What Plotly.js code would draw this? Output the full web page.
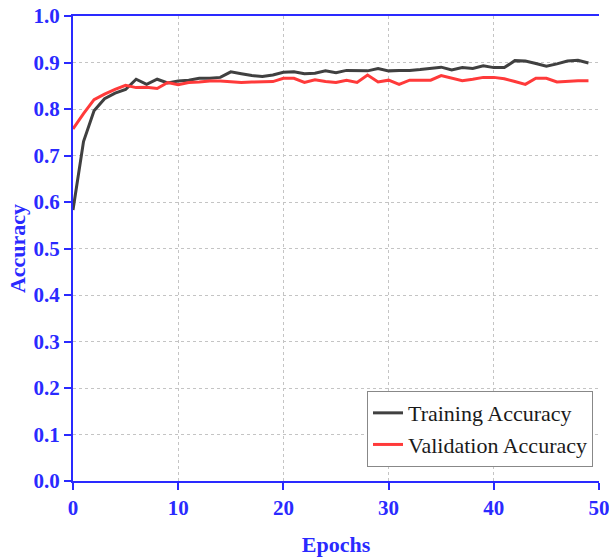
<!DOCTYPE html>
<html>
<head>
<meta charset="utf-8">
<script src="https://cdn.plot.ly/plotly-3.0.1.min.js"></script>
<style>html,body{margin:0;padding:0;background:#fff;}#chart{width:609px;height:557px;}</style>
</head>
<body>
<div id="chart"></div>
<script>
var epochs = [];
for (var i = 0; i < 50; i++) epochs.push(i);

var trainingAccuracy = [0.583,0.730,0.796,0.822,0.834,0.842,0.864,0.853,0.864,0.856,
  0.860,0.862,0.866,0.866,0.868,0.880,0.876,0.872,0.870,0.873,
  0.879,0.880,0.876,0.877,0.882,0.878,0.883,0.883,0.882,0.887,
  0.882,0.883,0.883,0.885,0.888,0.890,0.884,0.889,0.887,0.893,
  0.889,0.889,0.904,0.903,0.898,0.892,0.897,0.903,0.905,0.899];

var validationAccuracy = [0.757,0.790,0.820,0.832,0.842,0.851,0.846,0.847,0.844,0.857,
  0.852,0.857,0.858,0.860,0.860,0.859,0.857,0.858,0.859,0.859,
  0.866,0.866,0.857,0.863,0.859,0.857,0.862,0.857,0.873,0.858,
  0.862,0.853,0.862,0.862,0.862,0.872,0.866,0.861,0.864,0.868,
  0.868,0.865,0.859,0.853,0.866,0.866,0.858,0.860,0.861,0.861];

var xTickVals = [0,10,20,30,40,50];
var yTickVals = [0,0.1,0.2,0.3,0.4,0.5,0.6,0.7,0.8,0.9,1.0];

var blue = '#2a2aff';
var serif = 'Liberation Serif, Times New Roman, serif';

var traces = [
  {x: epochs, y: trainingAccuracy, type: 'scatter', mode: 'lines', name: 'Training Accuracy',
   line: {color: '#404040', width: 3}},
  {x: epochs, y: validationAccuracy, type: 'scatter', mode: 'lines', name: 'Validation Accuracy',
   line: {color: '#ff3a3a', width: 3}}
];

var layout = {
  width: 609, height: 557,
  margin: {l: 73, r: 10, t: 16, b: 76},
  paper_bgcolor: '#fff', plot_bgcolor: '#fff',
  font: {family: serif, color: blue},
  showlegend: true,
  legend: {x: 0.9886, xanchor: 'right', y: 0.03, yanchor: 'bottom',
    bgcolor: '#fff', bordercolor: '#888', borderwidth: 1, tracegroupgap: 0,
    font: {family: serif, size: 22, color: '#1a1a1a'}},
  xaxis: {
    range: [0, 50], tickvals: xTickVals, ticktext: xTickVals.map(String),
    ticks: 'outside', ticklen: 7, tickwidth: 2, tickcolor: blue,
    ticklabeloverflow: 'allow',
    showline: true, linecolor: blue, linewidth: 2, mirror: true,
    showgrid: true, gridcolor: '#c4c4c4', gridwidth: 1, griddash: '3px,3px',
    zeroline: false,
    tickfont: {family: serif, size: 21, color: blue, weight: 'bold'},
    title: {text: '<b>Epochs</b>', font: {family: serif, size: 22, color: blue}, standoff: 20}
  },
  yaxis: {
    range: [0, 1], tickvals: yTickVals, tickformat: '.1f',
    ticks: 'outside', ticklen: 7, tickwidth: 2, tickcolor: blue,
    ticklabeloverflow: 'allow',
    showline: true, linecolor: blue, linewidth: 2, mirror: false,
    showgrid: true, gridcolor: '#c4c4c4', gridwidth: 1, griddash: '3px,3px',
    zeroline: false,
    tickfont: {family: serif, size: 21, color: blue, weight: 'bold'},
    title: {text: '<b>Accuracy</b>', font: {family: serif, size: 22, color: blue}, standoff: 2}
  },
  yaxis2: {
    overlaying: 'y', side: 'right', range: [0, 1], tickvals: yTickVals,
    ticks: 'inside', ticklen: 7, tickwidth: 2, tickcolor: blue,
    showticklabels: false, showgrid: false, zeroline: false,
    showline: true, linecolor: blue, linewidth: 2
  }
};

Plotly.newPlot('chart', traces, layout, {displayModeBar: false, staticPlot: true});
</script>
</body>
</html>
